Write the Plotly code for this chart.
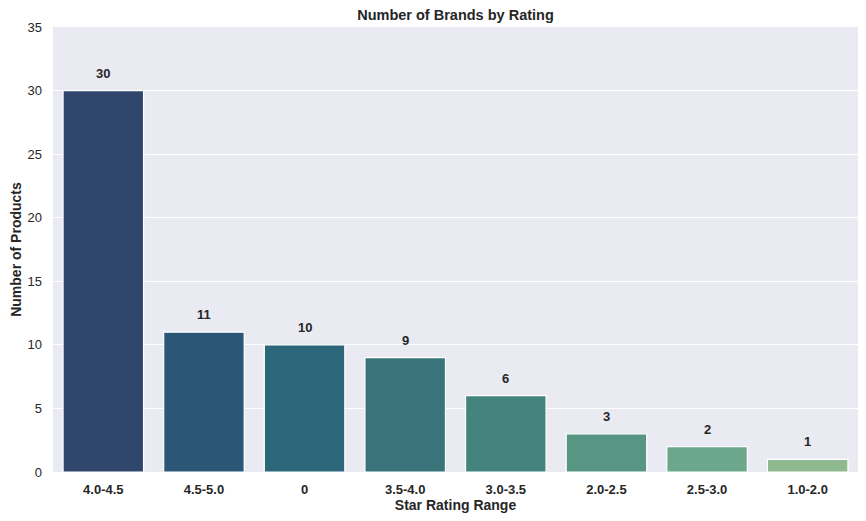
import plotly.graph_objects as go

# star rating ranges and product counts
ratings = ["4.0-4.5", "4.5-5.0", "0", "3.5-4.0", "3.0-3.5", "2.0-2.5", "2.5-3.0", "1.0-2.0"]
counts = [30, 11, 10, 9, 6, 3, 2, 1]
bar_colors = ["#31466d", "#2c5676", "#2b6679", "#38747a",
              "#45847e", "#589684", "#6da78b", "#8fb98f"]

fig = go.Figure()
fig.add_trace(go.Bar(
    x=ratings, y=counts,
    marker=dict(color=bar_colors, line=dict(color="white", width=1.2)),
    width=0.8,
    hoverinfo="skip",
    showlegend=False,
))

# value labels above bars (category index, since "0" is ambiguous as a string)
for i, c in enumerate(counts):
    fig.add_annotation(x=i, y=c, text=f"<b>{c}</b>", showarrow=False,
                       yanchor="bottom", yshift=8,
                       font=dict(size=13, color="#262626"))

fig.update_layout(
    width=850, height=505,
    margin=dict(l=45, r=0, t=19, b=41),
    paper_bgcolor="white",
    plot_bgcolor="#eaeaf2",
    font=dict(family="Liberation Sans, Arial, sans-serif", size=12, color="#262626"),
    title=dict(text="<b>Number of Brands by Rating</b>", x=0.5, xanchor="center",
               xref="paper", y=0.997, yanchor="top", font=dict(size=14.5)),
    bargap=0.2,
    xaxis=dict(
        type="category",
        title=dict(text="<b>Star Rating Range</b>", font=dict(size=14), standoff=4),
        tickfont=dict(size=13), ticklabelstandoff=8,
        ticktext=[f"<b>{r}</b>" for r in ratings], tickvals=ratings,
        showgrid=False, zeroline=False, range=[-0.5, 7.5],
    ),
    yaxis=dict(
        title=dict(text="<b>Number of Products</b>", font=dict(size=14), standoff=8),
        range=[0, 35], dtick=5, tickfont=dict(size=13), ticklabelstandoff=10,
        gridcolor="white", gridwidth=1, zeroline=False,
    ),
)

fig.write_html("out.html")
